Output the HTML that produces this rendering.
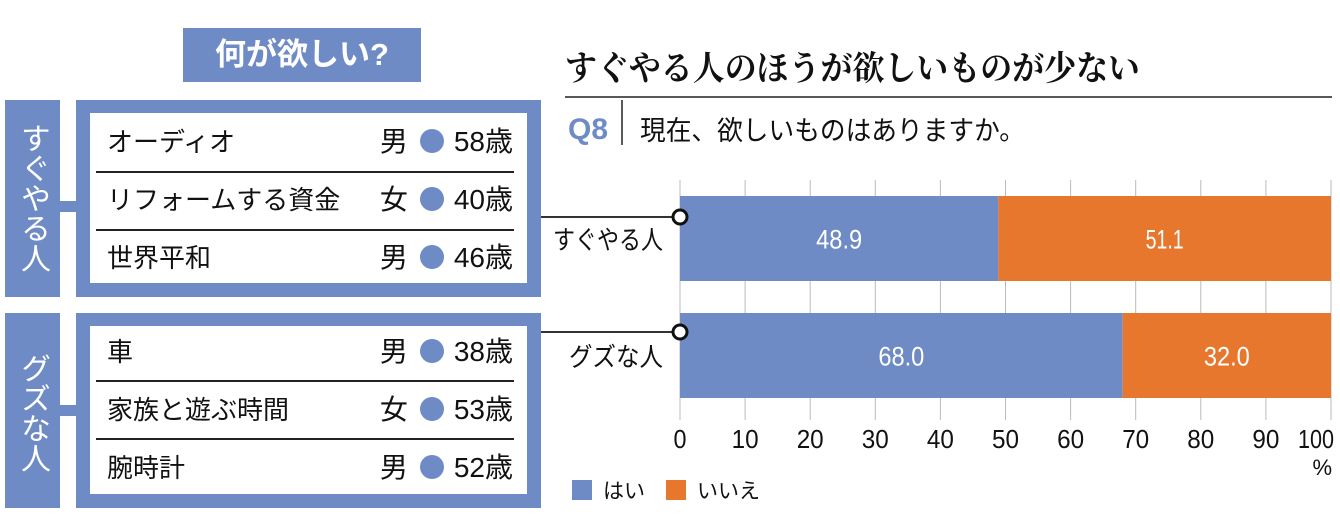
<!DOCTYPE html>
<html><head><meta charset="utf-8">
<style>
body{margin:0;width:1340px;height:527px;background:#fff;position:relative;overflow:hidden;font-family:"Liberation Sans","Noto Sans CJK JP",sans-serif;}
.abs{position:absolute}
.blue{background:#6f8bc6}
.row{position:absolute;left:107px;width:406px;height:58px;font-size:26px;color:#111;line-height:58px}
.row .r{position:absolute;right:0;top:0;font-size:28px}
.dot{display:inline-block;width:24px;height:24px;border-radius:50%;background:#6f8bc6;vertical-align:-2px;margin:0 10px 0 12px}
.sep{position:absolute;left:96px;width:418px;height:1.5px;background:#222}
.vlab{position:absolute;color:#fff;font-size:30px;writing-mode:vertical-rl;text-align:center;width:55px;line-height:55px}
</style></head><body>
<div class="abs blue" style="left:183px;top:28px;width:238px;height:54px;color:#fff;font-weight:bold;font-size:31px;line-height:54px;text-align:center">何が欲しい?</div>

<div class="abs blue" style="left:5px;top:100px;width:55px;height:197px"></div>
<div class="vlab" style="left:5px;top:118px;height:160px">すぐやる人</div>
<div class="abs blue" style="left:60px;top:201px;width:16px;height:11px"></div>
<div class="abs blue" style="left:76px;top:100px;width:465px;height:197px"></div>
<div class="abs" style="left:90px;top:113px;width:437px;height:170px;background:#fff"></div>
<div class="row" style="top:113px">オーディオ<span class="r">男<span class="dot"></span>58歳</span></div>
<div class="sep" style="top:171px"></div>
<div class="row" style="top:171px">リフォームする資金<span class="r">女<span class="dot"></span>40歳</span></div>
<div class="sep" style="top:229px"></div>
<div class="row" style="top:229px">世界平和<span class="r">男<span class="dot"></span>46歳</span></div>

<div class="abs blue" style="left:5px;top:313px;width:55px;height:195px"></div>
<div class="vlab" style="left:5px;top:338px;height:150px">グズな人</div>
<div class="abs blue" style="left:60px;top:405px;width:16px;height:11px"></div>
<div class="abs blue" style="left:76px;top:313px;width:465px;height:195px"></div>
<div class="abs" style="left:90px;top:326px;width:437px;height:168px;background:#fff"></div>
<div class="row" style="top:323px">車<span class="r">男<span class="dot"></span>38歳</span></div>
<div class="sep" style="top:380px"></div>
<div class="row" style="top:381px">家族と遊ぶ時間<span class="r">女<span class="dot"></span>53歳</span></div>
<div class="sep" style="top:438px"></div>
<div class="row" style="top:439px">腕時計<span class="r">男<span class="dot"></span>52歳</span></div>

<svg class="abs" style="left:0;top:0" width="1340" height="527" id="chart">
<text x="565" y="80" font-family="'Liberation Serif','Noto Serif CJK SC',serif" font-size="34" font-weight="bold" textLength="575" lengthAdjust="spacingAndGlyphs" fill="#111">すぐやる人のほうが欲しいものが少ない</text>
<line x1="565" y1="97" x2="1332" y2="97" stroke="#222" stroke-width="1.5"/>
<text x="568" y="139" font-size="30" font-weight="bold" fill="#6f8bc6" textLength="40" lengthAdjust="spacingAndGlyphs">Q8</text>
<line x1="622" y1="100" x2="622" y2="145" stroke="#222" stroke-width="1.5"/>
<text x="640" y="140" font-size="27" fill="#111" textLength="385" lengthAdjust="spacingAndGlyphs">現在、欲しいものはありますか。</text>
<g id="grid"></g><g id="bars"></g><g id="ticks"></g>
<text x="1332" y="475" font-size="22" fill="#111" text-anchor="end">%</text>
<rect x="572" y="480" width="20" height="20" fill="#6f8bc6"/>
<text x="603" y="498" font-size="21" fill="#111">はい</text>
<rect x="666" y="480" width="20" height="20" fill="#e8772e"/>
<text x="697" y="498" font-size="21" fill="#111">いいえ</text>
</svg>
<script>
const categories=["すぐやる人","グズな人"];
const yesValues=[48.9,68.0];
const noValues=[51.1,32.0];
const tickValues=[0,10,20,30,40,50,60,70,80,90,100];
const NS="http://www.w3.org/2000/svg";
const x0=680,x1=1331;
function xs(v){return x0+(x1-x0)*v/100;}
const barTop=[196,313],barH=85;
function mk(tag,attrs,parent){const e=document.createElementNS(NS,tag);for(const k in attrs)e.setAttribute(k,attrs[k]);document.getElementById(parent).appendChild(e);return e;}
tickValues.forEach(t=>{
  const l=mk('line',{x1:xs(t),x2:xs(t),y1:180,y2:420,stroke:'#bbb','stroke-width':1},'grid');
  
  
  const last=t===tickValues[tickValues.length-1];
  const tx=mk('text',{x:last?xs(t)+3:xs(t),y:448,'font-size':26,fill:'#111','text-anchor':last?'end':'middle',textLength:last?36:(t==0?13:27),lengthAdjust:'spacingAndGlyphs'},'ticks');
  tx.textContent=t;
  
  
});
categories.forEach((c,i)=>{
  const y=barTop[i];
  const b1=mk('rect',{x:xs(0),y:y,width:xs(yesValues[i])-xs(0),height:barH,fill:'#6f8bc6'},'bars');
  
  
  const b2=mk('rect',{x:xs(yesValues[i]),y:y,width:xs(yesValues[i]+noValues[i])-xs(yesValues[i]),height:barH,fill:'#e8772e'},'bars');
  
  
  const t1=mk('text',{x:(xs(0)+xs(yesValues[i]))/2,y:y+barH/2+10,'font-size':27,fill:'#fff','text-anchor':'middle',textLength:46,lengthAdjust:'spacingAndGlyphs'},'bars');
  t1.textContent=yesValues[i].toFixed(1);
  
  
  const t2=mk('text',{x:(xs(yesValues[i])+xs(yesValues[i]+noValues[i]))/2,y:y+barH/2+10,'font-size':27,fill:'#fff','text-anchor':'middle',textLength:i==0?38:46,lengthAdjust:'spacingAndGlyphs'},'bars');
  t2.textContent=noValues[i].toFixed(1);
  
  
  const cy=i==0?217:332;
  const ln=mk('line',{x1:541,x2:xs(0),y1:cy,y2:cy,stroke:'#333','stroke-width':2},'bars');
  
  
  const ci=mk('circle',{cx:xs(0),cy:cy,r:7,fill:'#fff',stroke:'#111','stroke-width':3},'bars');
  
  
  const lb=mk('text',{x:663,y:i==0?249:366,'font-size':26,fill:'#111','text-anchor':'end',textLength:i==0?110:94,lengthAdjust:'spacingAndGlyphs'},'bars');
  lb.textContent=c;
  
  
});
</script>
</body></html>
